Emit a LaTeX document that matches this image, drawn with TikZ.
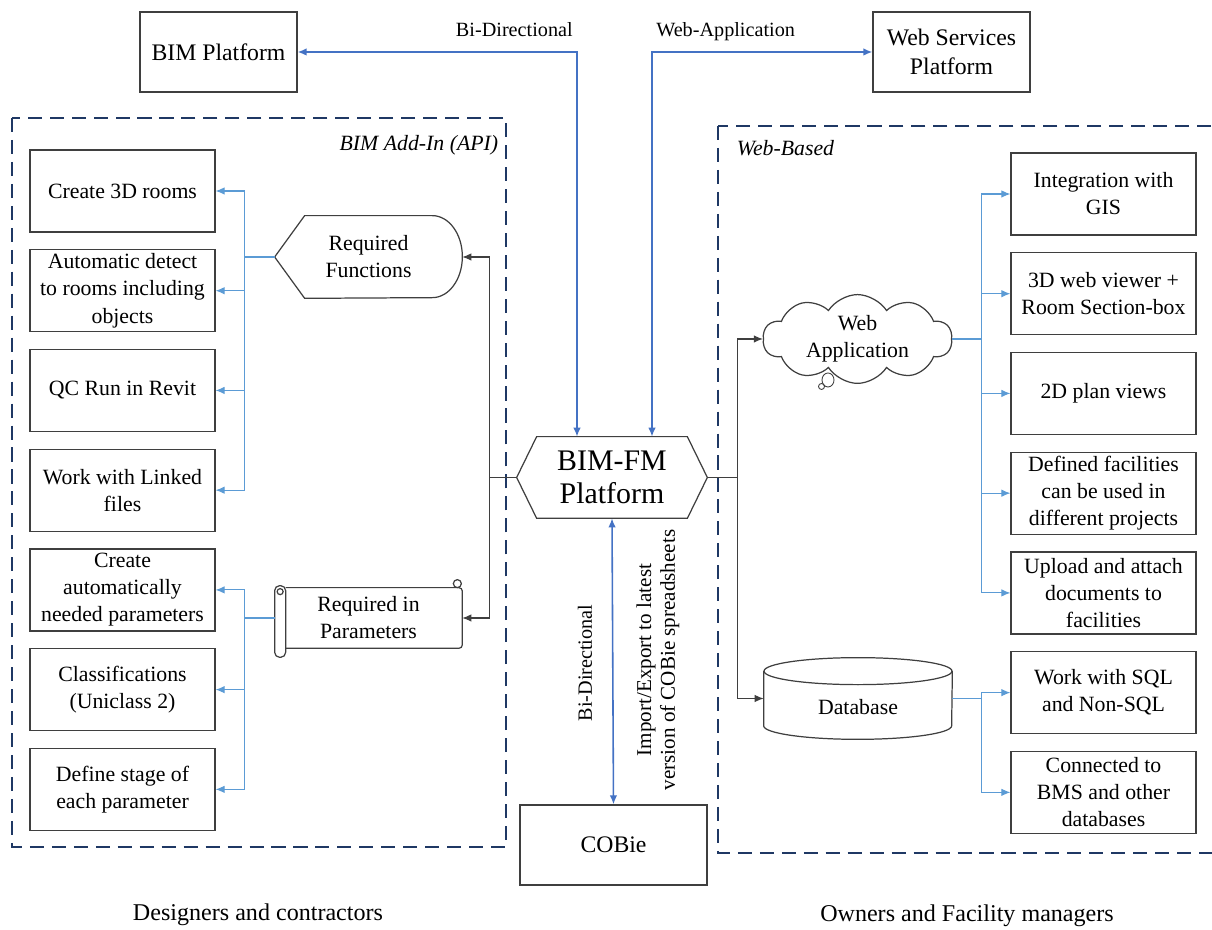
\documentclass[tikz,border=0pt]{standalone}
\usepackage{fontspec}
\setmainfont{Liberation Serif}
\usetikzlibrary{shapes.symbols,positioning,arrows.meta}

\definecolor{edgegray}{HTML}{3F3F3F}
\definecolor{mainblue}{HTML}{4472C4}
\definecolor{subblue}{HTML}{5B9BD5}
\definecolor{framenavy}{HTML}{1F3864}

\tikzset{
  itembox/.style={draw=edgegray, line width=0.7pt, minimum width=3.7cm, minimum height=1.64cm,
    inner sep=1pt, align=center, font=\fontsize{12.4}{15.4}\selectfont},
  platbox/.style={draw=edgegray, line width=0.7pt, minimum width=3.14cm, minimum height=1.6cm,
    align=center, font=\fontsize{13.5}{16.5}\selectfont},
  outline/.style={draw=edgegray, line width=0.7pt},
  zone/.style={draw=framenavy, line width=1.3pt, dash pattern=on 8pt off 4.5pt},
  zonelabel/.style={font=\fontsize{12.4}{15}\selectfont\itshape, inner sep=2pt},
  mainlink/.style={draw=mainblue, line width=0.9pt},
  sublink/.style={draw=subblue, line width=0.6pt},
  feed/.style={draw=edgegray, line width=0.6pt},
  linklabel/.style={font=\fontsize{11.5}{13.5}\selectfont, inner sep=2pt},
  toplabel/.style={linklabel, text height=8pt, text depth=2.5pt, yshift=4pt}
}

\begin{document}
\begin{tikzpicture}[>={Latex[length=1.8mm,width=1.5mm]}]
  \useasboundingbox (0,0) rectangle (24.24,18.6);

  % the two working areas
  \draw[zone] (0.24,16.24) rectangle (10.12,1.66);
  \draw[zone] (14.36,16.08) rectangle (24.3,1.54);
  \node[zonelabel, anchor=east] (addin) at (10.04,15.7) {BIM Add-In (API)};
  \node[zonelabel, anchor=west] (webbased) at (14.66,15.64) {Web-Based};

  % platforms
  \node[platbox] (bimplat) at (4.37,17.56) {BIM Platform};
  \node[platbox] (webserv) at (19.03,17.56) {Web Services\\Platform};
  \node[minimum width=3.8cm, minimum height=1.62cm, align=center,
        font=\fontsize{17}{18.5}\selectfont] (bimfm) at (12.24,9.05) {BIM-FM\\Platform};
  \draw[outline] (bimfm.west) -- ([xshift=0.4cm]bimfm.north west) -- ([xshift=-0.4cm]bimfm.north east)
    -- (bimfm.east) -- ([xshift=-0.4cm]bimfm.south east) -- ([xshift=0.4cm]bimfm.south west) -- cycle;
  \node[platbox, minimum width=3.74cm] (cobie) at (12.27,1.7) {COBie};

  % add-in side
  \node[minimum width=3.74cm, minimum height=1.64cm, align=center,
        font=\fontsize{12.4}{15.4}\selectfont] (reqfun) at (7.37,13.46) {Required\\Functions};
  \draw[outline] (reqfun.west) -- ([xshift=0.6cm]reqfun.north west) -- ([xshift=-0.6cm]reqfun.north east)
    arc[start angle=90, end angle=-90, x radius=0.6cm, y radius=0.82cm]
    -- ([xshift=0.6cm]reqfun.south west) -- cycle;

  \node[minimum width=3.74cm, minimum height=1.56cm, align=center,
        font=\fontsize{12.4}{15.4}\selectfont] (reqpar) at (7.37,6.24) {Required in\\Parameters};
  \draw[outline, rounded corners=2pt] ([xshift=0.22cm,yshift=-0.18cm]reqpar.north west)
    -- ([yshift=-0.18cm]reqpar.north east) -- ([yshift=0.18cm]reqpar.south east)
    -- ([xshift=0.22cm,yshift=0.18cm]reqpar.south west);
  \draw[outline, rounded corners=0.1cm] ([yshift=-0.14cm]reqpar.north west) rectangle ([xshift=0.22cm]reqpar.south west);
  \draw[outline] ([xshift=0.11cm,yshift=-0.26cm]reqpar.north west) circle (0.06);
  \draw[outline] ([xshift=-0.1cm,yshift=-0.1cm]reqpar.north east) circle (0.08);

  \node[itembox] (rooms) at (2.45,14.78) {Create 3D rooms};
  \node[itembox, below=0.33cm of rooms] (detect) {Automatic detect\\to rooms including\\objects};
  \node[itembox, below=0.33cm of detect] (qcrun) {QC Run in Revit};
  \node[itembox, below=0.33cm of qcrun] (linked) {Work with Linked\\files};
  \node[itembox, below=0.33cm of linked] (params) {Create\\automatically\\needed parameters};
  \node[itembox, below=0.33cm of params] (classes) {Classifications\\(Uniclass 2)};
  \node[itembox, below=0.33cm of classes] (stages) {Define stage of\\each parameter};

  % web side
  \node[cloud, outline, cloud puffs=10, cloud puff arc=115, aspect=2.3, minimum width=3.78cm,
        minimum height=1.64cm, inner sep=0pt, align=center,
        font=\fontsize{12.4}{15.4}\selectfont] (webapp) at (17.15,11.82) {Web\\Application};
  \draw[outline, line width=0.5pt] ([shift={(-0.59,-0.82)}]webapp.center) ellipse (0.12 and 0.14);
  \draw[outline, line width=0.5pt] ([shift={(-0.72,-0.95)}]webapp.center) circle (0.06);

  \node[minimum width=3.76cm, minimum height=1.62cm, text height=18pt, text depth=0pt,
        font=\fontsize{12.4}{15.4}\selectfont] (db) at (17.16,4.63) {Database};
  \draw[outline] ([yshift=-0.27cm]db.north) ellipse (1.88 and 0.27);
  \draw[outline] ([yshift=-0.27cm]db.north west) -- ([yshift=0.27cm]db.south west)
    arc[start angle=180, end angle=360, x radius=1.88cm, y radius=0.27cm]
    -- ([yshift=-0.27cm]db.north east);

  \node[itembox] (gis) at (22.07,14.72) {Integration with\\GIS};
  \node[itembox, below=0.33cm of gis] (viewer) {3D web viewer +\\Room Section-box};
  \node[itembox, below=0.33cm of viewer] (plans) {2D plan views};
  \node[itembox, below=0.33cm of plans] (facil) {Defined facilities\\can be used in\\different projects};
  \node[itembox, below=0.33cm of facil] (upload) {Upload and attach\\documents to\\facilities};
  \node[itembox, below=0.33cm of upload] (sql) {Work with SQL\\and Non-SQL};
  \node[itembox, below=0.33cm of sql] (bms) {Connected to\\BMS and other\\databases};

  % platform links
  \draw[mainlink, <->] ([xshift=-0.7cm]bimfm.north) |- node[pos=0.5, toplabel, above left] {Bi-Directional} (bimplat.east);
  \draw[mainlink, <->] ([xshift=0.8cm]bimfm.north) |- node[pos=0.5, toplabel, above right] {Web-Application} (webserv.west);
  \draw[mainlink, <->] (bimfm.south) -- (cobie.north);
  \node[linklabel, rotate=90] (cobiedir) at (11.7,5.34) {Bi-Directional};
  \node[linklabel, rotate=90, align=center, font=\fontsize{12}{13.5}\selectfont] (cobienote) at (13.16,5.4)
    {Import/Export to latest\\version of COBie spreadsheets};

  % feeds out of the BIM-FM platform
  \draw[feed] (bimfm.west) -- ++(-0.54,0) coordinate (ljoin);
  \draw[feed, ->] (ljoin) |- (reqfun.east);
  \draw[feed, ->] (ljoin) |- (reqpar.east);
  \draw[feed] (bimfm.east) -- ++(0.6,0) coordinate (rjoin);
  \draw[feed, ->] (rjoin) |- (webapp.west);
  \draw[feed, ->] (rjoin) |- (db.west);

  % branches to the items
  \draw[sublink] (reqfun.west) -- ++(-0.6,0) coordinate (fbus);
  \foreach \n in {rooms,detect,qcrun,linked}
    \draw[sublink, ->] (fbus) |- (\n.east);
  \draw[sublink] (reqpar.west) -- ++(-0.6,0) coordinate (pbus);
  \foreach \n in {params,classes,stages}
    \draw[sublink, ->] (pbus) |- (\n.east);
  \draw[sublink] (webapp.east) -- ++(0.58,0) coordinate (wbus);
  \foreach \n in {gis,viewer,plans,facil,upload}
    \draw[sublink, ->] (wbus) |- (\n.west);
  \draw[sublink] (db.east) -- ++(0.58,0) coordinate (dbus);
  \foreach \n in {sql,bms}
    \draw[sublink, ->] (dbus) |- (\n.west);

  % user groups
  \node[font=\fontsize{13.7}{16}\selectfont] (designers) at (5.16,0.3) {Designers and contractors};
  \node[font=\fontsize{13.7}{16}\selectfont] (owners) at (19.34,0.28) {Owners and Facility managers};
\end{tikzpicture}
\end{document}
